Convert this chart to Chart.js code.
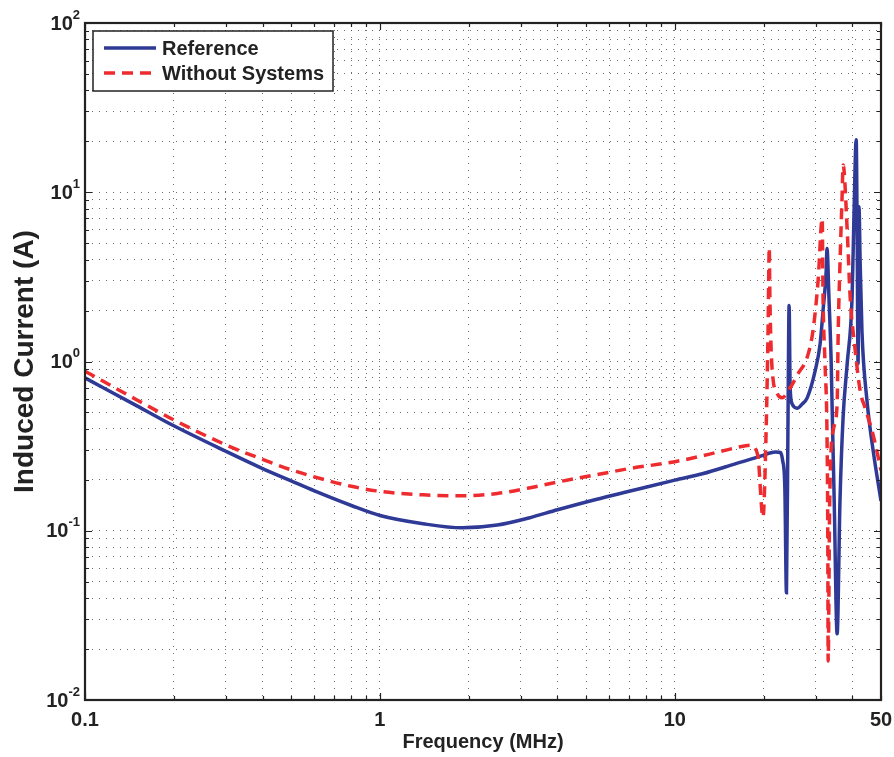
<!DOCTYPE html>
<html>
<head>
<meta charset="utf-8">
<script src="https://cdn.jsdelivr.net/npm/chart.js@4"></script>
<style>
  html, body { margin: 0; padding: 0; background: #ffffff; }
  #wrap { width: 894px; height: 757px; }
</style>
</head>
<body>
<div id="wrap"><canvas id="c" width="894" height="757"></canvas></div>
<script>
// ---- Data ----
const refFreq = [0.1, 0.15, 0.2, 0.3, 0.4, 0.5, 0.6, 0.8, 1.0, 1.4,
  1.9, 2.5, 3.2, 4.0, 5.4, 7.0, 10, 12.4, 16.2, 19.4,
  21.0, 22.0, 22.8, 23.2, 23.6, 23.9, 24.2, 24.4, 24.6, 25.0,
  26.0, 27.0, 28.1, 29.9, 31.1, 31.8, 32.6, 32.8, 33.3, 33.9,
  34.1, 34.7, 35.5, 36.3, 37.2, 38.4, 39.9, 40.5, 41.2, 41.5,
  41.8, 42.1, 42.5, 43.1, 44.8, 47.0, 50];
const refCurrent = [0.80, 0.547, 0.417, 0.295, 0.233, 0.197, 0.172, 0.141, 0.123, 0.110,
  0.104, 0.108, 0.119, 0.133, 0.153, 0.171, 0.199, 0.217, 0.250, 0.275,
  0.288, 0.292, 0.29, 0.26, 0.18, 0.043, 0.5, 2.14, 0.7, 0.56,
  0.53, 0.56, 0.61, 0.88, 1.28, 2.0, 3.45, 4.66, 2.4, 0.97,
  0.59, 0.15, 0.0246, 0.15, 0.47, 0.97, 2.4, 7.5, 20.4, 6,
  0.97, 8.2, 3.8, 1.5, 0.59, 0.30, 0.15];

const wsFreq = [0.1, 0.15, 0.2, 0.3, 0.4, 0.5, 0.6, 0.8, 1.0, 1.4,
  1.9, 2.5, 3.2, 4.0, 5.4, 7.0, 10, 12.4, 16.2, 18.0,
  19.1, 19.9, 20.4, 20.7, 20.9, 21.0, 21.2, 21.5, 22.2, 23.1,
  24.6, 26.2, 28.1, 29.4, 30.6, 31.6, 31.8, 32.3, 32.8, 33.0,
  33.1, 33.5, 34.5, 35.5, 35.8, 36.3, 36.9, 37.2, 38.4, 39.3,
  40.8, 42.5, 44.2, 47.0, 50];
const wsCurrent = [0.876, 0.593, 0.452, 0.322, 0.264, 0.229, 0.208, 0.183, 0.171, 0.163,
  0.161, 0.166, 0.179, 0.194, 0.214, 0.233, 0.256, 0.277, 0.31, 0.32,
  0.28, 0.12, 0.4, 1.5, 4.7, 2.4, 1.2, 0.80, 0.65, 0.61,
  0.70, 0.85, 1.06, 1.52, 3.0, 7.0, 2.4, 0.97, 0.37, 0.096,
  0.017, 0.15, 0.4, 0.56, 1.5, 3.8, 9.4, 14.5, 6, 2.4,
  1.2, 0.67, 0.53, 0.37, 0.227];

const seriesNames = ['Reference', 'Without Systems'];

// tick / grid values and labels
const xTickValues = [0.1,0.2,0.3,0.4,0.5,0.6,0.7,0.8,0.9,1,2,3,4,5,6,7,8,9,10,20,30,40,50];
const xTickLabels = {0.1: '0.1', 1: '1', 10: '10', 50: '50'};
const yTickValues = [0.01,0.02,0.03,0.04,0.05,0.06,0.07,0.08,0.09,
  0.1,0.2,0.3,0.4,0.5,0.6,0.7,0.8,0.9,1,2,3,4,5,6,7,8,9,
  10,20,30,40,50,60,70,80,90,100];
const yLabelBase = '10';
const yLabelExponents = {0.01: '-2', 0.1: '-1', 1: '0', 10: '1', 100: '2'};

const xTitle = 'Frequency (MHz)';
const yTitle = 'Induced Current (A)';

const BLUE = '#2f3a97';
const RED = '#ee2b2e';
const INK = '#222222';
const FONT = "'Liberation Sans', Arial, Helvetica, sans-serif";

function isMajor(v) {
  const l = Math.log10(v);
  return Math.abs(l - Math.round(l)) < 1e-9;
}

const frame = {
  id: 'frame',
  afterDraw(chart) {
    const ctx = chart.ctx;
    const a = chart.chartArea;
    const xs = chart.scales.x, ys = chart.scales.y;
    ctx.save();
    ctx.strokeStyle = INK;
    ctx.lineWidth = 1.2;
    ctx.setLineDash([]);
    // inward ticks, all four sides
    xTickValues.forEach(v => {
      const px = Math.round(xs.getPixelForValue(v)) + 0.5;
      const len = isMajor(v) ? 7 : 4;
      ctx.beginPath();
      ctx.moveTo(px, a.bottom); ctx.lineTo(px, a.bottom - len);
      ctx.moveTo(px, a.top); ctx.lineTo(px, a.top + len);
      ctx.stroke();
    });
    yTickValues.forEach(v => {
      const py = Math.round(ys.getPixelForValue(v)) + 0.5;
      const len = isMajor(v) ? 7 : 4;
      ctx.beginPath();
      ctx.moveTo(a.left, py); ctx.lineTo(a.left + len, py);
      ctx.moveTo(a.right, py); ctx.lineTo(a.right - len, py);
      ctx.stroke();
    });
    // axes box
    ctx.lineWidth = 2.2;
    ctx.strokeRect(a.left, a.top, a.right - a.left, a.bottom - a.top);

    // y tick labels with real superscript exponents (10^n)
    ctx.fillStyle = INK;
    Object.keys(yLabelExponents).forEach(k => {
      const v = parseFloat(k);
      const py = ys.getPixelForValue(v);
      const exp = yLabelExponents[k];
      ctx.font = 'bold 13px ' + FONT;
      const ew = ctx.measureText(exp).width;
      ctx.font = 'bold 20px ' + FONT;
      const bw = ctx.measureText(yLabelBase).width;
      const right = a.left - 5;
      ctx.textAlign = 'left';
      ctx.textBaseline = 'middle';
      ctx.fillText(yLabelBase, right - ew - bw, py + 1);
      ctx.font = 'bold 13px ' + FONT;
      ctx.textBaseline = 'alphabetic';
      ctx.fillText(exp, right - ew, py - 4.5);
    });

    // legend
    const lx = a.left + 8, ly = a.top + 8, lw = 240, lh = 60;
    ctx.fillStyle = '#ffffff';
    ctx.fillRect(lx, ly, lw, lh);
    ctx.lineWidth = 1.5;
    ctx.strokeStyle = INK;
    ctx.strokeRect(lx, ly, lw, lh);
    const rows = [
      {name: seriesNames[0], color: BLUE, dash: []},
      {name: seriesNames[1], color: RED, dash: [11, 7]}
    ];
    rows.forEach((r, i) => {
      const y = ly + 17 + i * 25;
      ctx.beginPath();
      ctx.strokeStyle = r.color;
      ctx.lineWidth = 3.5;
      ctx.setLineDash(r.dash);
      ctx.moveTo(lx + 11, y); ctx.lineTo(lx + 63, y);
      ctx.stroke();
      ctx.setLineDash([]);
      ctx.fillStyle = INK;
      ctx.font = 'bold 20px ' + FONT;
      ctx.textBaseline = 'middle';
      ctx.textAlign = 'left';
      ctx.fillText(r.name, lx + 69, y + 1);
    });
    ctx.restore();
  }
};

const ds = [
  {
    label: seriesNames[0],
    data: refFreq.map((f, i) => ({x: f, y: refCurrent[i]})),
    borderColor: BLUE,
    borderWidth: 3.5,
    pointRadius: 0,
    cubicInterpolationMode: 'monotone',
    order: 2
  },
  {
    label: seriesNames[1],
    data: wsFreq.map((f, i) => ({x: f, y: wsCurrent[i]})),
    borderColor: RED,
    borderWidth: 3.5,
    borderDash: [11, 7],
    pointRadius: 0,
    cubicInterpolationMode: 'monotone',
    order: 1
  }
];

new Chart(document.getElementById('c'), {
  type: 'line',
  data: { datasets: ds },
  options: {
    responsive: false,
    animation: false,
    devicePixelRatio: 1,
    layout: { padding: { top: 23, right: 13, left: 0, bottom: 0 } },
    plugins: { legend: { display: false }, tooltip: { enabled: false } },
    scales: {
      x: {
        type: 'logarithmic',
        min: 0.1, max: 50,
        afterBuildTicks: s => { s.ticks = xTickValues.map(v => ({value: v})); },
        afterFit: s => { s.height = 57; s.paddingLeft = 0; s.paddingRight = 0; },
        ticks: {
          autoSkip: false, maxRotation: 0, minRotation: 0,
          padding: 8,
          color: INK,
          font: { family: FONT, size: 20, weight: 'bold' },
          callback: v => xTickLabels[v] !== undefined ? xTickLabels[v] : ''
        },
        grid: { drawTicks: false, color: 'rgba(60,60,60,0.75)', lineWidth: 1 },
        border: { display: false, dash: [1, 6] },
        title: {
          display: true, text: xTitle, color: INK,
          font: { family: FONT, size: 20, weight: 'bold' },
          padding: { top: 0, bottom: 3 }
        }
      },
      y: {
        type: 'logarithmic',
        min: 0.01, max: 100,
        afterBuildTicks: s => { s.ticks = yTickValues.map(v => ({value: v})); },
        afterFit: s => { s.width = 85; s.paddingTop = 0; s.paddingBottom = 0; },
        ticks: {
          autoSkip: false,
          padding: 5,
          color: INK,
          font: { family: FONT, size: 20, weight: 'bold' },
          callback: () => ''
        },
        grid: { drawTicks: false, color: 'rgba(60,60,60,0.75)', lineWidth: 1 },
        border: { display: false, dash: [1, 6] },
        title: {
          display: true, text: yTitle, color: INK,
          font: { family: FONT, size: 28, weight: 'bold' },
          padding: { top: 8, bottom: 0 }
        }
      }
    }
  },
  plugins: [frame]
});
</script>
</body>
</html>
